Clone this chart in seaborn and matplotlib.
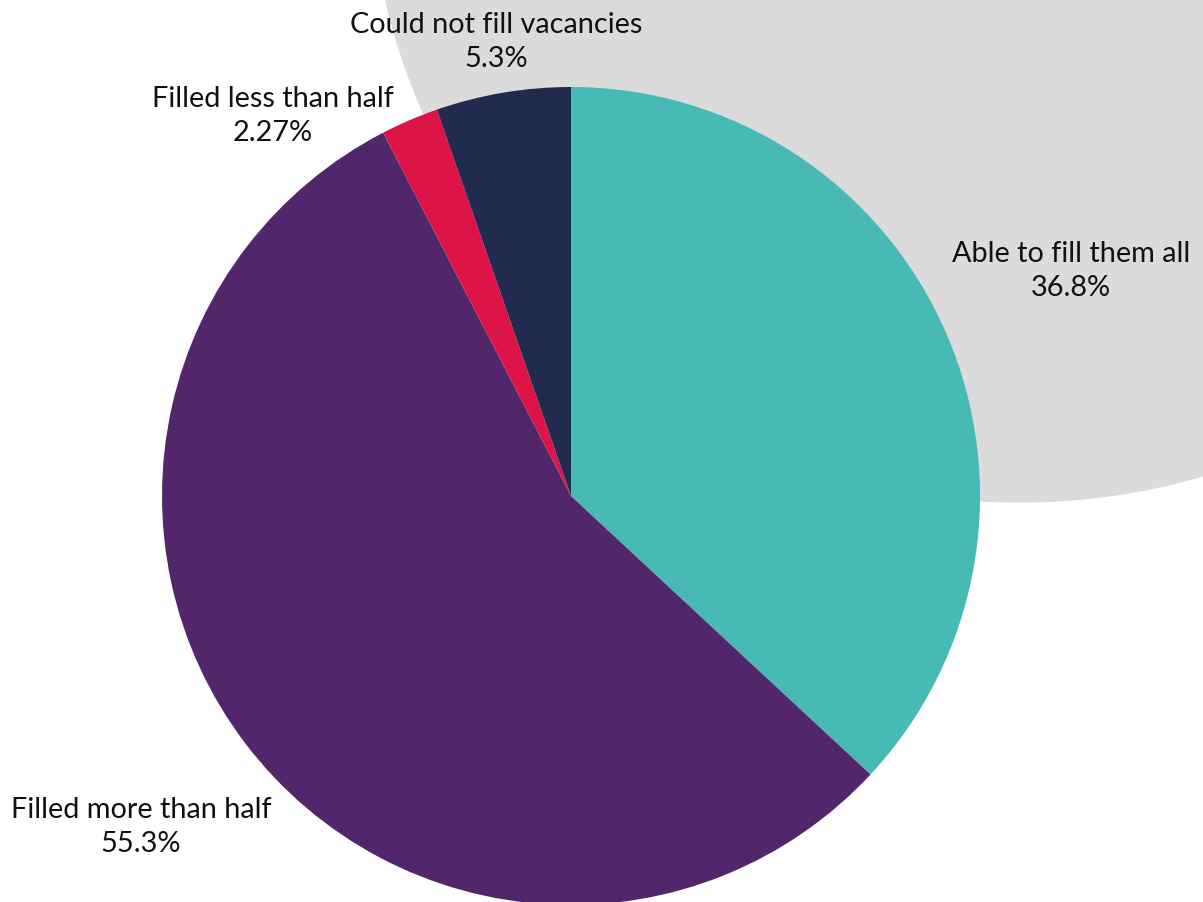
import matplotlib
matplotlib.use("Agg")
import matplotlib.pyplot as plt
import seaborn as sns
from matplotlib.patches import Circle

categories = ["Able to fill them all", "Filled more than half", "Filled less than half", "Could not fill vacancies"]
values = [36.8, 55.3, 2.27, 5.3]
value_labels = ["36.8%", "55.3%", "2.27%", "5.3%"]
colors = ["#47BAB5", "#52266B", "#DC1447", "#222A4E"]

sns.set_theme(style="white")
plt.rcParams['font.family'] = ['Lato', 'DejaVu Sans']

W, H = 1203, 903
fig = plt.figure(figsize=(W / 100, H / 100), dpi=100)
ax = fig.add_axes([0, 0, 1, 1])
ax.set_xlim(0, W)
ax.set_ylim(0, H)
ax.set_aspect('equal')
ax.axis('off')

# background decorative circle
ax.add_patch(Circle((1020, H + 149), 652, color="#DBDBDB", zorder=0))

cx, cy, r = 571, H - 497, 409
ax.pie(values, colors=sns.color_palette(colors), startangle=90, counterclock=False,
       center=(cx, cy), radius=r, wedgeprops=dict(linewidth=0), frame=True)
ax.set_xlim(0, W)
ax.set_ylim(0, H)
ax.axis('off')

label_pos = [(1071, H - 271), (141, H - 827), (273, H - 116), (496, H - 42)]
for cat, vl, (x, y) in zip(categories, value_labels, label_pos):
    ax.text(x, y, f"{cat}\n{vl}", ha="center", va="center", fontsize=20.8,
            color="#111111", linespacing=1.42, zorder=5)

fig.savefig("out.png", dpi=100)
